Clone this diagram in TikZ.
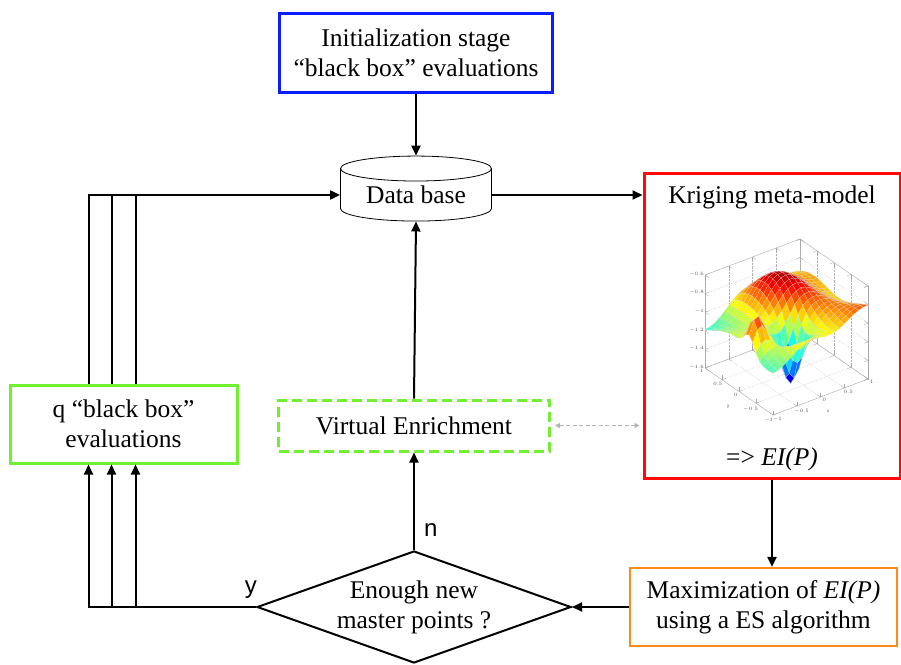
\documentclass[tikz,border=0pt]{standalone}
\usepackage{fontspec}
\setmainfont{Liberation Serif}
\newfontfamily\branchfont{Liberation Sans}
\usepackage{pgfplots}
\pgfplotsset{compat=1.18}
\usetikzlibrary{shapes.geometric, arrows.meta, positioning, calc}
\definecolor{InitBlue}{HTML}{0A1EFF}
\definecolor{KrigRed}{HTML}{FF0A0A}
\definecolor{EvalGreen}{HTML}{70F030}
\definecolor{MaxOrange}{HTML}{FF8A1C}
\definecolor{LinkGray}{HTML}{B4B4B4}

\begin{document}
\begin{tikzpicture}[
    x=1pt, y=-1pt,
    boxtext/.style={font=\fontsize{25.5}{30}\selectfont, align=center, inner sep=0pt},
    initbox/.style={boxtext, draw=InitBlue, line width=3pt, minimum width=273pt, minimum height=79pt},
    krigbox/.style={draw=KrigRed, line width=3pt, minimum width=256pt, minimum height=305pt},
    evalbox/.style={boxtext, draw=EvalGreen, line width=3pt, minimum width=227pt, minimum height=78pt},
    enrichbox/.style={boxtext, draw=EvalGreen, line width=3pt, dash pattern=on 10pt off 5pt, minimum width=271pt, minimum height=51pt},
    maxbox/.style={boxtext, draw=MaxOrange, line width=2.2pt, minimum width=267pt, minimum height=78pt},
    dbase/.style={boxtext, draw, line width=0.8pt, cylinder, shape border rotate=90, aspect=0.25, minimum width=151pt, minimum height=65pt},
    decision/.style={boxtext, draw, line width=2pt, diamond, aspect=2.8, minimum width=314pt, minimum height=112pt},
    branchlbl/.style={font=\branchfont\fontsize{24}{28}\selectfont, inner sep=0pt},
    line/.style={line width=2pt},
    arrow/.style={-{Triangle[length=10pt, width=9pt]}, line width=2pt},
    linkarrow/.style={{Triangle[length=5pt, width=5pt]}-{Triangle[length=5pt, width=5pt]}, line width=1.2pt, draw=LinkGray, dash pattern=on 4pt off 2.5pt}
]
\useasboundingbox (0,0) rectangle (901,664);

% Main stages
\node[initbox] (init) at (416,53) {Initialization stage\\“black box” evaluations};
\node[dbase] (db) at (416,195) {Data base};
\node[krigbox] (krig) at (772,325.5) {};
\node[boxtext, below=14pt of krig.north] (krigtitle) {Kriging meta-model};
\node[boxtext, above=8pt of krig.south] (krigei) {=> \textit{EI(P)}};
\coordinate (plotc) at (786.5,327);

% Enrichment loop
\node[evalbox] (qeval) at (123.5,424) {q “black box”\\evaluations};
\node[enrichbox] (venr) at (414,425.5) {Virtual Enrichment};
\node[decision] (dec) at (414,607) {Enough new\\master points ?};
\node[maxbox] (maxi) at (763.5,607) {Maximization of \textit{EI(P)}\\using a ES algorithm};

% Kriging surface
\begin{axis}[
    at={(plotc)}, anchor=center,
    x={(47.5pt,18pt)}, y={(-34pt,23.5pt)}, z={(0pt,93pt)},
    xmin=-1, xmax=1, ymin=-1, ymax=1, zmin=-1.6, zmax=-0.6,
    point meta min=-1.6, point meta max=-0.6,
    xtick={-1,-0.5,0,0.5,1}, ytick={-1,-0.5,0,0.5,1}, ztick={-1.6,-1.4,-1.2,-1,-0.8,-0.6},
    grid=major, grid style={densely dotted, gray!60},
    axis line style={gray!70, line width=0.3pt},
    tick style={gray!70, line width=0.3pt},
    tick label style={font=\branchfont\fontsize{4.5}{5}\selectfont, text=black!70, inner sep=1pt},
    xticklabel style={xshift=2pt},
    yticklabel style={xshift=-1pt},
    xlabel={x}, ylabel={y},
    label style={font=\branchfont\fontsize{4.5}{5}\selectfont, text=black!70, inner sep=1pt},
    colormap/jet,
]
\addplot3[surf, shader=faceted, faceted color=black!15, line width=0.1pt, domain=-1:1, y domain=-1:1, samples=21]
  {-1.0 + 0.05*x - 0.1*y
   + 0.35*exp(-((x-0.2)^2+(y-0.5)^2)/0.5)
   - 0.15*exp(-((x+1)^2+(y+1)^2)/1.0)
   - 0.55*exp(-((x+0.2)^2+(y+0.4)^2)/0.06)
   + 0.3*exp(-((x+0.85)^2+(y+0.3)^2)/0.04)
   + 0.05*sin(deg(5*x+3*y))};
\end{axis}

% Main flow
\draw[arrow] (init.south) -- (db.north);
\draw[arrow] (db.east) -- (db.east -| krig.west);
\draw[arrow] (krig.south) -- (krig.south |- maxi.north);
\draw[arrow] (maxi.west) -- (dec.east);
\draw[arrow] (dec.north) -- node[branchlbl, pos=0.2, right=9pt] (nlbl) {n} (venr.south);
\draw[arrow] (venr.north) -- (db.south);
\draw[linkarrow] ([xshift=4pt]venr.east) -- ([xshift=-3pt]venr.east -| krig.west);

% Parallel evaluations
\foreach \dx [count=\i] in {-35,-12,12} {
  \coordinate (qs\i) at ($(qeval.south)+(\dx,0)$);
  \coordinate (qn\i) at ($(qeval.north)+(\dx,0)$);
}
\draw[arrow] (dec.west) -- node[branchlbl, pos=0.03, above=8pt] (ylbl) {y} (qs1 |- dec.west) -- (qs1);
\draw[arrow] (qs2 |- dec.west) -- (qs2);
\draw[arrow] (qs3 |- dec.west) -- (qs3);
\draw[arrow] (qn1) -- (qn1 |- db.west) -- (db.west);
\draw[line] (qn2) -- (qn2 |- db.west);
\draw[line] (qn3) -- (qn3 |- db.west);

\end{tikzpicture}
\end{document}
